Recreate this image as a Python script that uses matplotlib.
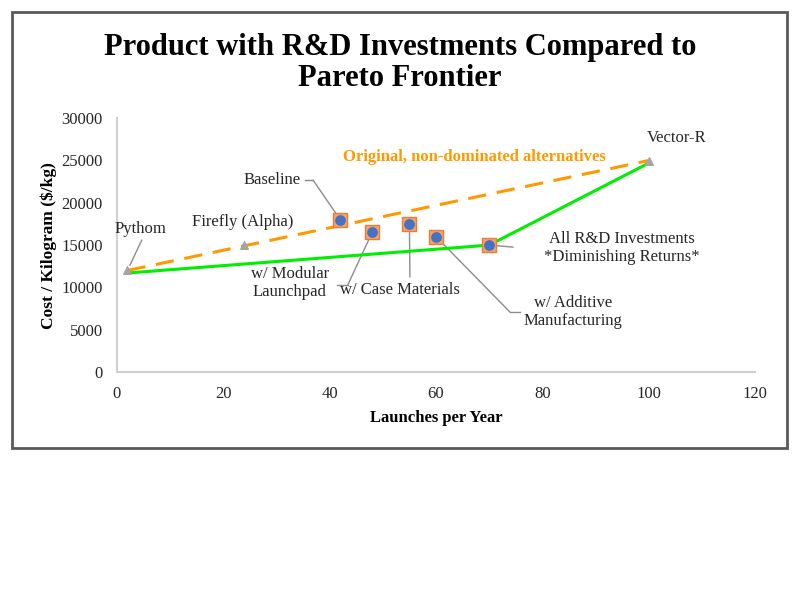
import matplotlib.pyplot as plt
from matplotlib.patches import Rectangle

plt.rcParams['font.family'] = ['Liberation Serif', 'DejaVu Serif']

# original non-dominated alternatives
orig_names = ["Pythom", "Firefly (Alpha)", "Vector-R"]
orig_x = [2, 24, 100]
orig_y = [12000, 15000, 25000]

# product with R&D investments
rd_names = ["Baseline", "w/ Modular\nLaunchpad", "w/ Case Materials",
            "w/ Additive\nManufacturing", "All R&D Investments\n*Diminishing Returns*"]
rd_x = [42, 48, 55, 60, 70]
rd_y = [18000, 16500, 17500, 16000, 15000]

# frontier lines
orig_line_x = [2, 100]
orig_line_y = [12000, 25000]
rd_line_x = [2, 70, 100]
rd_line_y = [11700, 15000, 24700]

fig = plt.figure(figsize=(8, 6), dpi=100)
ax = fig.add_axes([0.146, 0.38, 0.798, 0.423])

# chart border
fig.patches.append(Rectangle((12/800, 1-448/600), 775/800, 436/600, transform=fig.transFigure,
                             fill=False, edgecolor='#595959', linewidth=2))

ax.plot(orig_line_x, orig_line_y, color='#FF9900', linestyle=(0, (6, 3.5)), linewidth=2.2, zorder=2)
ax.plot(rd_line_x, rd_line_y, color='#00EE00', linewidth=2.2, zorder=3)
ax.scatter(orig_x, orig_y, marker='^', s=30, color='#A5A5A5', zorder=4)
ax.scatter(rd_x, rd_y, marker='s', s=110, color='#F4A26B', edgecolors='#ED7D31', linewidths=1, zorder=4)
ax.scatter(rd_x, rd_y, marker='o', s=45, color='#4472C4', zorder=5)

lc = '#8C8C8C'
ann = dict(fontsize=12, color='#262626', ha='center', va='center')

def leader(pt, elbow, start=None):
    '''grey leader line from label (start -> elbow) and on to the marker'''
    if start is not None:
        ax.plot([start[0], elbow[0]], [start[1], elbow[1]], color=lc, lw=1, zorder=1)
    ax.annotate('', xy=pt, xytext=elbow,
                arrowprops=dict(arrowstyle='-', color=lc, lw=1, shrinkA=0, shrinkB=4), zorder=1)

# labels of the original alternatives
ax.text(4.5, 16890, orig_names[0], **ann)
leader((orig_x[0], orig_y[0]), (4.7, 15600))
ax.text(23.7, 17700, orig_names[1], **ann)
ax.text(105.3, 27640, orig_names[2], **ann)

# labels of the R&D products
ax.text(29.2, 22680, rd_names[0], **ann)
leader((rd_x[0], rd_y[0]), (36.9, 22680), (35.4, 22680))
ax.text(32.5, 10510, rd_names[1], linespacing=1.15, **ann)
leader((rd_x[1], rd_y[1]), (43.4, 10270), (41.4, 10270))
ax.text(53.2, 9680, rd_names[2], **ann)
leader((rd_x[2], rd_y[2]), (55.1, 11220))
ax.text(85.8, 7090, rd_names[3], linespacing=1.15, **ann)
leader((rd_x[3], rd_y[3]), (73.9, 7090), (75.8, 7090))
ax.text(95, 14700, rd_names[4], linespacing=1.15, **ann)
leader((rd_x[4], rd_y[4]), (74.5, 14760))

ax.text(67.3, 25390, "Original, non-dominated alternatives", fontsize=12, fontweight='bold',
        color='#FF9900', ha='center', va='center')

ax.set_xlim(0, 120)
ax.set_ylim(0, 30000)
ax.set_xticks(range(0, 121, 20))
ax.set_yticks(range(0, 30001, 5000))
ax.tick_params(length=0, labelsize=12, colors='#262626')
ax.tick_params(axis='y', pad=10)
ax.tick_params(axis='x', pad=10)
for s in ['top', 'right']:
    ax.spines[s].set_visible(False)
for s in ['left', 'bottom']:
    ax.spines[s].set_color('#D0D0D0')
    ax.spines[s].set_linewidth(1.5)

ax.set_xlabel("Launches per Year", fontsize=12, fontweight='bold', labelpad=6)
ax.set_ylabel("Cost / Kilogram ($/kg)", fontsize=12.5, fontweight='bold', labelpad=3)

fig.text(0.5, 0.895, "Product with R&D Investments Compared to\nPareto Frontier", fontsize=22,
         fontweight='bold', ha='center', va='center', linespacing=1.12)

fig.savefig("out.png", dpi=100)
